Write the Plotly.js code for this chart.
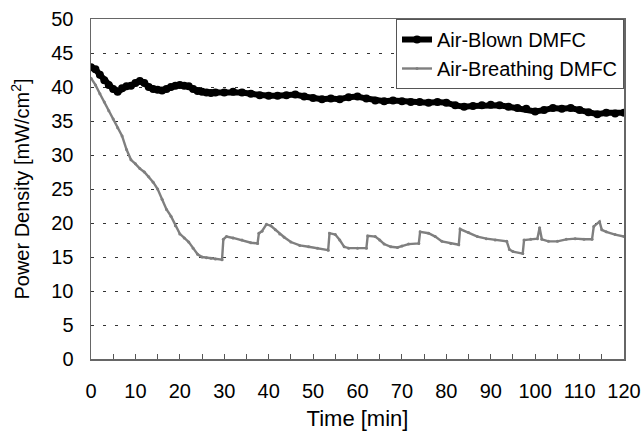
<!DOCTYPE html>
<html>
<head>
<meta charset="utf-8">
<script src="https://cdn.plot.ly/plotly-3.0.1.min.js"></script>
<style>html,body{margin:0;padding:0;background:#fff;}#chart{width:642px;height:431px;}</style>
</head>
<body>
<div id="chart"></div>
<script>
// Air-Blown DMFC
const blownTime = [0,1,2,3,4,5,6,7,8,9,10,11,12,13,14,15,16,17,18,19,20,21,22,23,24,25,26,27,28,30,32,34,36,38,40,42,44,46,48,50,52,54,56,58,60,62,64,66,68,70,72,74,76,78,80,82,84,86,88,90,92,94,96,98,100,102,104,106,108,110,112,114,116,118,120];
const blownPower = [42.9,42.6,41.8,41.0,40.3,39.7,39.3,39.8,40.1,40.2,40.6,40.9,40.6,40.0,39.7,39.6,39.5,39.7,40.0,40.2,40.3,40.2,40.1,39.7,39.4,39.3,39.2,39.1,39.2,39.2,39.3,39.2,39.0,38.8,38.7,38.7,38.8,38.9,38.6,38.4,38.2,38.3,38.2,38.5,38.6,38.3,38.0,37.9,38.0,37.9,37.8,37.8,37.7,37.8,37.7,37.3,37.1,37.2,37.3,37.4,37.3,37.1,36.9,36.8,36.4,36.6,36.9,36.8,36.9,36.6,36.3,36.0,36.2,36.1,36.2];

// Air-Breathing DMFC
const breathTime = [0,1,2,3,4,5,6,7,8,9,10,11,12,13,14,15,16,17,18,19,20,21,22,23,24,25,26,27,28,29.5,29.8,30.5,32,34,36,37.5,37.8,38.5,39.5,40.5,41.5,42.5,43.5,45,47,49,51,53.4,53.7,55,56,57,58,60,62,62.3,64,65,66,67.5,69,70,71.5,73.8,74.1,76,77.5,79,81,82.8,83.1,85,87,89,91,93.6,94.2,95,97.2,97.5,99,100.5,101,101.5,103,105,107,109,111,112.8,113.2,114.5,115,116,118,120];
const breathPower = [41.3,40.3,39.0,37.8,36.5,35.3,34.0,32.8,30.8,29.3,28.7,28.0,27.5,26.8,26.0,25.0,23.5,22.0,21.0,19.6,18.4,17.8,17.2,16.3,15.4,15.0,14.9,14.8,14.7,14.6,17.6,18.0,17.8,17.5,17.1,17.0,18.5,18.8,19.8,19.6,19.0,18.4,17.9,17.2,16.7,16.5,16.3,16.0,18.5,18.3,17.5,16.5,16.3,16.3,16.3,18.1,18.0,17.5,16.9,16.5,16.4,16.6,16.9,17.0,18.7,18.5,18.0,17.3,17.0,16.8,19.1,18.6,18.0,17.7,17.5,17.3,16.1,15.8,15.5,17.5,17.6,17.7,19.3,17.6,17.3,17.3,17.6,17.7,17.6,17.6,19.5,20.2,19.0,18.7,18.3,18.0];

const xTickVals = [0,10,20,30,40,50,60,70,80,90,100,110,120];
const yTickVals = [0,5,10,15,20,25,30,35,40,45,50];

const FONT = '"Liberation Sans", Arial, Helvetica, sans-serif';

const traces = [
  {
    x: blownTime, y: blownPower, name: 'Air-Blown DMFC',
    mode: 'lines+markers', type: 'scatter',
    line: {color: '#000000', width: 6},
    marker: {color: '#000000', size: 8, symbol: 'circle'}
  },
  {
    x: breathTime, y: breathPower, name: 'Air-Breathing DMFC',
    mode: 'lines+markers', type: 'scatter',
    line: {color: '#7f7f7f', width: 2.4},
    marker: {color: '#7f7f7f', size: 3, symbol: 'circle'}
  }
];

const layout = {
  width: 642, height: 431,
  margin: {l: 91, r: 18, t: 19, b: 72},
  paper_bgcolor: '#ffffff', plot_bgcolor: '#ffffff',
  font: {family: FONT, color: '#000000', size: 20},
  showlegend: true,
  legend: {
    x: 1, xanchor: 'right', y: 1, yanchor: 'top',
    bgcolor: '#ffffff', bordercolor: '#555555', borderwidth: 1,
    font: {family: FONT, size: 20, color: '#000000'},
    tracegroupgap: 0, itemwidth: 30
  },
  xaxis: {
    range: [0, 120], tickmode: 'array', tickvals: xTickVals,
    ticktext: xTickVals.map(String),
    ticks: 'inside', ticklen: 5, tickwidth: 1, tickcolor: '#555555',
    minor: {dtick: 5, ticks: 'inside', ticklen: 5, tickwidth: 1, tickcolor: '#555555', showgrid: false},
    showline: true, linecolor: '#666666', linewidth: 1.5, mirror: true,
    showgrid: false, zeroline: false,
    tickfont: {family: FONT, size: 20, color: '#000000'},
    ticklabelstandoff: 13,
    title: {text: 'Time [min]', font: {family: FONT, size: 22, color: '#000000'}, standoff: 12}
  },
  yaxis: {
    range: [0, 50], tickmode: 'array', tickvals: yTickVals,
    ticktext: yTickVals.map(String),
    ticks: '', showline: true, linecolor: '#666666', linewidth: 1.5, mirror: true,
    showgrid: true, gridcolor: '#333333', gridwidth: 1, griddash: '3px,9px',
    zeroline: false,
    tickfont: {family: FONT, size: 20, color: '#000000'},
    ticklabelstandoff: 12,
    title: {text: 'Power Density [mW/cm<sup>2</sup>]', font: {family: FONT, size: 20, color: '#000000'}, standoff: 16}
  }
};

Plotly.newPlot('chart', traces, layout, {displayModeBar: false, staticPlot: true});
</script>
</body>
</html>
